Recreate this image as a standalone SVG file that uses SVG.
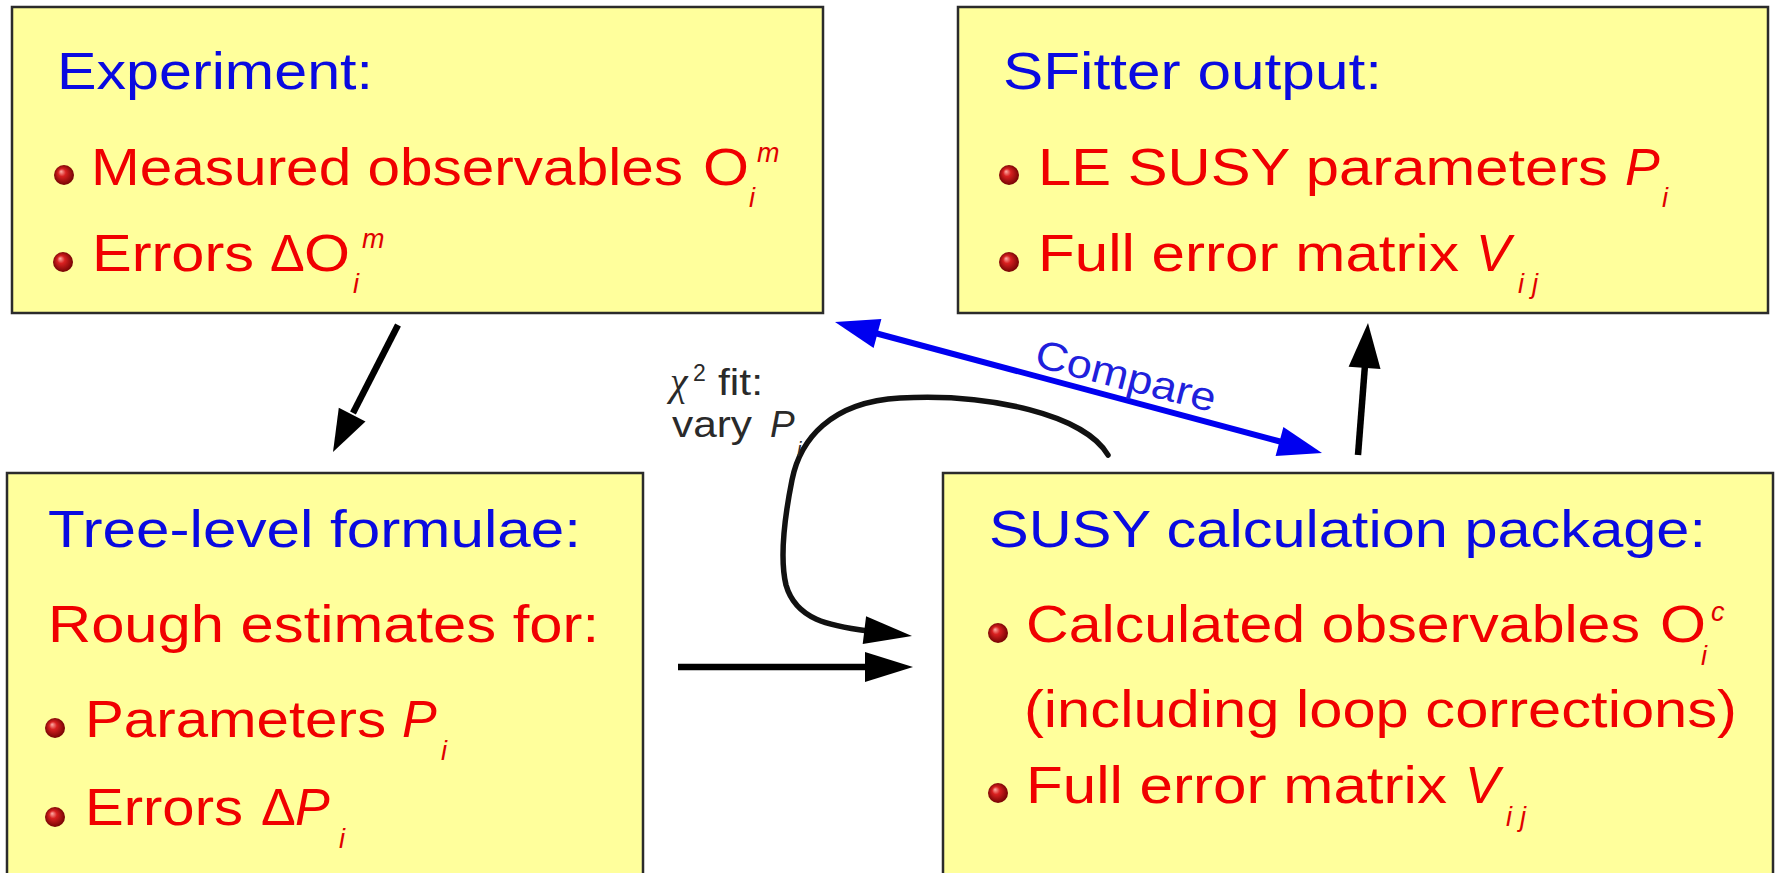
<svg xmlns="http://www.w3.org/2000/svg" xmlns:xlink="http://www.w3.org/1999/xlink" width="1775" height="873" viewBox="0 0 1775 873">
  <defs>
    <radialGradient id="ball" cx="50%" cy="50%" r="55%" fx="35%" fy="32%">
      <stop offset="0" stop-color="#ffb0a8"/>
      <stop offset="0.35" stop-color="#d82020"/>
      <stop offset="1" stop-color="#6a0000"/>
    </radialGradient>
    <circle id="bullet" r="10" fill="url(#ball)"/>
    <style>
      .box { fill: #ffff9c; stroke: #2b2b2b; stroke-width: 2.5; }
      text { font-family: "Liberation Sans", Arial, sans-serif; }
      .title { font-size: 52px; fill: #0a0ae0; }
      .item { font-size: 52px; fill: #f00000; }
      .var { font-size: 52px; fill: #f00000; font-style: italic; }
      .idx { font-size: 27px; fill: #e00000; font-style: italic; }
      .note { font-size: 37px; fill: #2a2a2a; }
      .greek { font-family: "Liberation Serif", serif; font-style: italic; font-size: 40px; fill: #2a2a2a; }
      .cmp { font-size: 40px; fill: #2020dc; }
      .shaft { stroke: #000; stroke-width: 6.5; fill: none; }
      .curve { stroke: #111; stroke-width: 5.5; fill: none; stroke-linecap: round; }
      .head { fill: #000; }
      .bshaft { stroke: #0000f0; stroke-width: 6; fill: none; }
      .bhead { fill: #0000f0; }
    </style>
  </defs>

  <rect width="1775" height="873" fill="#ffffff"/>

  <!-- top left: experiment -->
  <g id="box-experiment">
    <rect class="box" x="12" y="7" width="811" height="306"/>
    <text class="title" x="57" y="89" textLength="316" lengthAdjust="spacingAndGlyphs">Experiment:</text>
    <use href="#bullet" x="64" y="175"/>
    <text class="item" x="91" y="185" textLength="592" lengthAdjust="spacingAndGlyphs">Measured observables</text>
    <text class="item" x="703" y="185" textLength="46" lengthAdjust="spacingAndGlyphs">O</text>
    <text class="idx" x="757" y="162">m</text>
    <text class="idx" x="749" y="207">i</text>
    <use href="#bullet" x="63" y="262"/>
    <text class="item" x="92" y="271" textLength="162" lengthAdjust="spacingAndGlyphs">Errors</text>
    <text class="item" x="270" y="271">Δ</text>
    <text class="item" x="304" y="271" textLength="46" lengthAdjust="spacingAndGlyphs">O</text>
    <text class="idx" x="362" y="248">m</text>
    <text class="idx" x="353" y="293">i</text>
  </g>

  <!-- top right: fitter output -->
  <g id="box-sfitter">
    <rect class="box" x="958" y="7" width="810" height="306"/>
    <text class="title" x="1003" y="89" textLength="379" lengthAdjust="spacingAndGlyphs">SFitter output:</text>
    <use href="#bullet" x="1009" y="175"/>
    <text class="item" x="1038" y="185" textLength="570" lengthAdjust="spacingAndGlyphs">LE SUSY parameters</text>
    <text class="var" x="1625" y="185">P</text>
    <text class="idx" x="1662" y="207">i</text>
    <use href="#bullet" x="1009" y="262"/>
    <text class="item" x="1038" y="271" textLength="421" lengthAdjust="spacingAndGlyphs">Full error matrix</text>
    <text class="var" x="1476" y="271">V</text>
    <text class="idx" x="1518 1532" y="293">ij</text>
  </g>

  <!-- bottom left: tree-level estimates -->
  <g id="box-tree">
    <rect class="box" x="7" y="473" width="636" height="420"/>
    <text class="title" x="48" y="547" textLength="533" lengthAdjust="spacingAndGlyphs">Tree-level formulae:</text>
    <text class="item" x="48" y="642" textLength="551" lengthAdjust="spacingAndGlyphs">Rough estimates for:</text>
    <use href="#bullet" x="55" y="728"/>
    <text class="item" x="85" y="737" textLength="301" lengthAdjust="spacingAndGlyphs">Parameters</text>
    <text class="var" x="402" y="737">P</text>
    <text class="idx" x="441" y="760">i</text>
    <use href="#bullet" x="55" y="817"/>
    <text class="item" x="85" y="825" textLength="158" lengthAdjust="spacingAndGlyphs">Errors</text>
    <text class="item" x="261" y="825">Δ</text>
    <text class="var" x="295" y="825">P</text>
    <text class="idx" x="339" y="848">i</text>
  </g>

  <!-- bottom right: calculation package -->
  <g id="box-susy">
    <rect class="box" x="943" y="473" width="830" height="420"/>
    <text class="title" x="989" y="547" textLength="717" lengthAdjust="spacingAndGlyphs">SUSY calculation package:</text>
    <use href="#bullet" x="998" y="633"/>
    <text class="item" x="1026" y="642" textLength="614" lengthAdjust="spacingAndGlyphs">Calculated observables</text>
    <text class="item" x="1660" y="642" textLength="46" lengthAdjust="spacingAndGlyphs">O</text>
    <text class="idx" x="1711" y="621">c</text>
    <text class="idx" x="1701" y="665">i</text>
    <text class="item" x="1024" y="727" textLength="713" lengthAdjust="spacingAndGlyphs">(including loop corrections)</text>
    <use href="#bullet" x="998" y="793"/>
    <text class="item" x="1026" y="803" textLength="421" lengthAdjust="spacingAndGlyphs">Full error matrix</text>
    <text class="var" x="1465" y="803">V</text>
    <text class="idx" x="1506 1520" y="826">ij</text>
  </g>

  <!-- connectors -->
  <g id="connectors">
    <!-- experiment -> tree-level -->
    <line class="shaft" x1="398" y1="325" x2="353" y2="413"/>
    <polygon class="head" points="333,452 365.5,421.4 338.8,407.8"/>

    <!-- tree-level -> package -->
    <line class="shaft" x1="678" y1="667" x2="868" y2="667"/>
    <polygon class="head" points="913,667 865,652 865,682"/>

    <!-- fit loop back into package -->
    <path class="curve" d="M1108,455 C1085,415 990,393 900,398 C830,402 800,440 792,480 C784,520 780,560 786,585 C796,620 830,626 868,631"/>
    <polygon class="head" points="912,636 866.1,616.3 862.7,644.1"/>

    <!-- package -> output -->
    <line class="shaft" x1="1358" y1="455" x2="1365" y2="365"/>
    <polygon class="head" points="1368,323 1380.5,369.1 1348.6,366.7"/>

    <!-- compare, both ways -->
    <line class="bshaft" x1="875" y1="333" x2="1282" y2="442"/>
    <polygon class="bhead" points="835,322 873.6,347.9 881.4,318.9"/>
    <polygon class="bhead" points="1322,453 1275.6,456.1 1283.4,427.1"/>

    <text class="cmp" transform="translate(1033,366) rotate(14.5)" textLength="185" lengthAdjust="spacingAndGlyphs">Compare</text>

    <g id="fit-label">
      <text class="greek" x="670" y="395">χ</text>
      <text class="note" x="693" y="381" style="font-size:23px">2</text>
      <text class="note" x="718" y="395" textLength="45" lengthAdjust="spacingAndGlyphs">fit:</text>
      <text class="note" x="672" y="437" textLength="80" lengthAdjust="spacingAndGlyphs">vary</text>
      <text class="note" x="770" y="437" style="font-style:italic">P</text>
      <text class="note" x="797" y="456" style="font-size:20px;font-style:italic">i</text>
    </g>
  </g>
</svg>
